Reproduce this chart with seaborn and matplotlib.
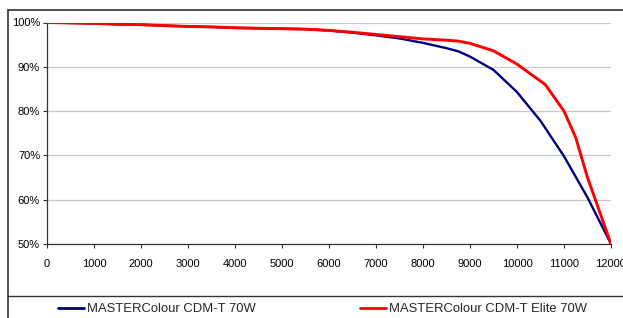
import numpy as np
import pandas as pd
import seaborn as sns
import matplotlib.pyplot as plt
from matplotlib.lines import Line2D
from matplotlib.ticker import FuncFormatter

hours_std = [0, 500, 1000, 1500, 2000, 2500, 3000, 3500, 4000, 4500, 5000, 5500, 6000,
             6500, 7000, 7500, 8000, 8500, 8750, 9000, 9500, 10000, 10500, 11000, 11500, 12000]
lumen_std = [100, 99.9, 99.8, 99.6, 99.5, 99.3, 99.1, 99.0, 98.8, 98.7, 98.6, 98.5, 98.2,
             97.7, 97.1, 96.4, 95.4, 94.2, 93.5, 92.3, 89.3, 84.3, 77.8, 69.8, 60.5, 50]

hours_elite = [0, 500, 1000, 1500, 2000, 2500, 3000, 3500, 4000, 4500, 5000, 5500, 6000,
               6500, 7000, 7500, 8000, 8500, 8750, 9000, 9500, 10000, 10600, 11000, 11250,
               11500, 11750, 12000]
lumen_elite = [100, 99.9, 99.8, 99.6, 99.5, 99.3, 99.1, 99.0, 98.8, 98.7, 98.6, 98.5, 98.2,
               97.8, 97.3, 96.8, 96.3, 96.0, 95.8, 95.3, 93.6, 90.6, 86.0, 80.0, 74.0,
               65.0, 57.5, 50]

names = ["MASTERColour CDM-T 70W", "MASTERColour CDM-T Elite 70W"]
colors = ["#000080", "#ff0000"]

df = pd.concat([
    pd.DataFrame({"hours": hours_std, "lumen": lumen_std, "lamp": names[0]}),
    pd.DataFrame({"hours": hours_elite, "lumen": lumen_elite, "lamp": names[1]}),
])

sns.set_style("white")
plt.rcParams["font.family"] = ["Liberation Sans", "DejaVu Sans"]

fig = plt.figure(figsize=(6.23, 3.18), dpi=100)
ax = fig.add_axes([47 / 623, 1 - 244 / 318, 564 / 623, 221.5 / 318])

sns.lineplot(data=df, x="hours", y="lumen", hue="lamp", palette=dict(zip(names, colors)),
             ax=ax, legend=False, sort=False)
ax.lines[0].set_linewidth(1.7)
ax.lines[1].set_linewidth(2.1)
ax.lines[0].set_zorder(2)
ax.lines[1].set_zorder(3)

ax.set_xlim(0, 12000)
ax.set_ylim(50, 100)
ax.set_xticks(np.arange(0, 12001, 1000))
ax.set_yticks(np.arange(50, 101, 10))
ax.yaxis.set_major_formatter(FuncFormatter(lambda v, p: f"{v:.0f}%"))
ax.grid(axis="y", color="#c8c8c8", linewidth=0.9)
ax.set_axisbelow(True)
ax.set_xlabel("")
ax.set_ylabel("")
for s in ["top", "right"]:
    ax.spines[s].set_visible(False)
for s in ["left", "bottom"]:
    ax.spines[s].set_color("#333333")
    ax.spines[s].set_linewidth(0.9)
ax.tick_params(axis="both", which="major", direction="out", length=3, width=0.8,
               color="#333333", labelsize=8, labelcolor="black", bottom=True, left=True)
ax.tick_params(axis="x", pad=8)
ax.tick_params(axis="y", pad=2)
ax.patch.set_alpha(0)

# outer frame and legend separator
fc = "#333333"
fig.add_artist(Line2D([8 / 623, 1], [1 - 10 / 318] * 2, transform=fig.transFigure, color=fc, lw=1.2))
fig.add_artist(Line2D([8 / 623] * 2, [0, 1 - 10 / 318], transform=fig.transFigure, color=fc, lw=1.2))
fig.add_artist(Line2D([8 / 623, 1], [1 - 296 / 318] * 2, transform=fig.transFigure, color=fc, lw=1.0))

handles = [Line2D([], [], color=c, lw=2) for c in colors]
fig.legend(handles, names, loc="center left", bbox_to_anchor=(53 / 623, 1 - 309 / 318),
           ncol=2, frameon=False, fontsize=9.4, handlelength=2.0, handletextpad=0.2,
           columnspacing=8.0, borderaxespad=0)

fig.savefig("out.png", dpi=100)
